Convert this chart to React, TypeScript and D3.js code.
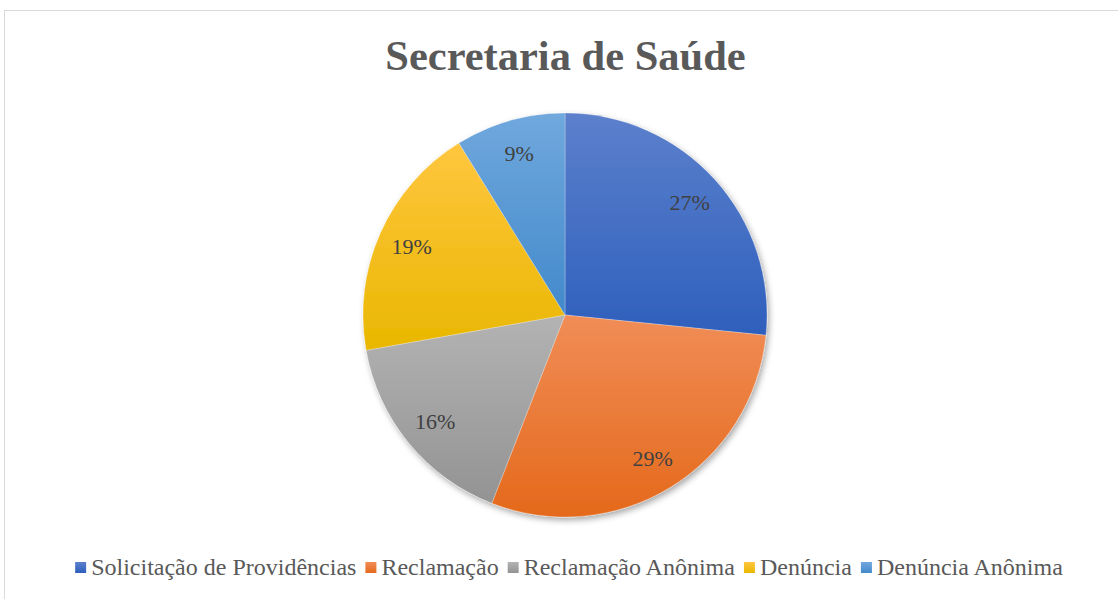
import { useEffect, useRef } from 'react'
import * as d3 from 'd3'

const title = 'Secretaria de Saúde'
const categories = [
  'Solicitação de Providências',
  'Reclamação',
  'Reclamação Anônima',
  'Denúncia',
  'Denúncia Anônima',
]
const values = [26.6, 29.3, 16.3, 19.0, 8.8]
const labels = ['27%', '29%', '16%', '19%', '9%']
const colorsTop = ['#5c80cc', '#f18d57', '#b3b3b3', '#ffc63f', '#70a8dd']
const colorsBottom = ['#2e5fbc', '#e4691b', '#939393', '#e9b700', '#4289cb']
const legendColors = ['#4472c4', '#ed7d31', '#a5a5a5', '#ffc000', '#5b9bd5']

type Datum = { name: string; value: number; label: string; i: number }

export default () => {
  const rootRef = useRef<SVGSVGElement>(null)

  useEffect(() => {
    const width = 1118,
      height = 599
    const cx = 565,
      cy = 315,
      r = 202

    const svg = d3.select(rootRef.current).attr('width', width).attr('height', height)
    svg.selectAll('*').remove()

    const defs = svg.append('defs')
    categories.forEach((_, i) => {
      const g = defs
        .append('linearGradient')
        .attr('id', 'grad' + i)
        .attr('x1', 0)
        .attr('y1', 0)
        .attr('x2', 0)
        .attr('y2', 1)
      g.append('stop').attr('offset', '0%').attr('stop-color', colorsTop[i])
      g.append('stop').attr('offset', '100%').attr('stop-color', colorsBottom[i])
    })
    const shadow = defs
      .append('filter')
      .attr('id', 'shadow')
      .attr('x', '-10%')
      .attr('y', '-10%')
      .attr('width', '120%')
      .attr('height', '120%')
    shadow
      .append('feDropShadow')
      .attr('dx', 2)
      .attr('dy', 3)
      .attr('stdDeviation', 3)
      .attr('flood-color', '#000')
      .attr('flood-opacity', 0.35)

    // chart frame
    svg
      .append('rect')
      .attr('x', 4.5)
      .attr('y', 10.5)
      .attr('width', 1130)
      .attr('height', 610)
      .attr('fill', '#fff')
      .attr('stroke', '#d9d9d9')

    svg
      .append('text')
      .attr('x', 565.5)
      .attr('y', 70)
      .attr('text-anchor', 'middle')
      .attr('font-family', '"Liberation Serif", "Times New Roman", serif')
      .attr('font-weight', 'bold')
      .attr('font-size', 42.5)
      .attr('fill', '#595959')
      .text(title)

    const data: Datum[] = categories.map((name, i) => ({ name, value: values[i], label: labels[i], i }))
    const pie = d3
      .pie<Datum>()
      .value((d) => d.value)
      .sort(null)
    const arcs = pie(data)
    const arc = d3.arc<d3.PieArcDatum<Datum>>().innerRadius(0).outerRadius(r)
    const labelArc = d3.arc<d3.PieArcDatum<Datum>>().innerRadius(168).outerRadius(168)

    const g = svg.append('g').attr('transform', `translate(${cx},${cy})`)
    const slices = g.append('g').attr('filter', 'url(#shadow)')
    slices
      .selectAll('path')
      .data(arcs)
      .join('path')
      .attr('d', arc)
      .attr('fill', (d) => `url(#grad${d.data.i})`)
      .attr('stroke', '#fff')
      .attr('stroke-opacity', 0.35)
      .attr('stroke-width', 0.75)

    g.selectAll('text.lbl')
      .data(arcs)
      .join('text')
      .attr('class', 'lbl')
      .attr('transform', (d) => `translate(${labelArc.centroid(d)})`)
      .attr('text-anchor', 'middle')
      .attr('dy', '0.35em')
      .attr('font-family', '"Liberation Serif", "Times New Roman", serif')
      .attr('font-size', 22)
      .attr('fill', '#404040')
      .text((d) => d.data.label)

    // legend
    const legend = svg.append('g')
    const box = 11,
      gapText = 5,
      gapItem = 9
    const items = legend
      .selectAll('g')
      .data(data)
      .join('g')
    items
      .append('rect')
      .attr('width', box)
      .attr('height', box)
      .attr('y', -13)
      .attr('fill', (d) => `url(#grad${d.i})`)
    items
      .append('text')
      .attr('x', box + gapText)
      .attr('font-family', '"Liberation Serif", "Times New Roman", serif')
      .attr('font-size', 24)
      .attr('fill', '#595959')
      .text((d) => d.name)
    const widths: number[] = []
    items.each(function () {
      const t = d3.select(this).select('text').node() as SVGTextElement
      widths.push(box + gapText + t.getComputedTextLength())
    })
    const total = d3.sum(widths) + gapItem * (widths.length - 1)
    let x = 569 - total / 2
    items.attr('transform', (_, i) => {
      const tx = x
      x += widths[i] + gapItem
      return `translate(${tx},575)`
    })
  }, [])

  return <svg ref={rootRef} style={{ position: 'absolute', left: 0, top: 0 }}></svg>
}
